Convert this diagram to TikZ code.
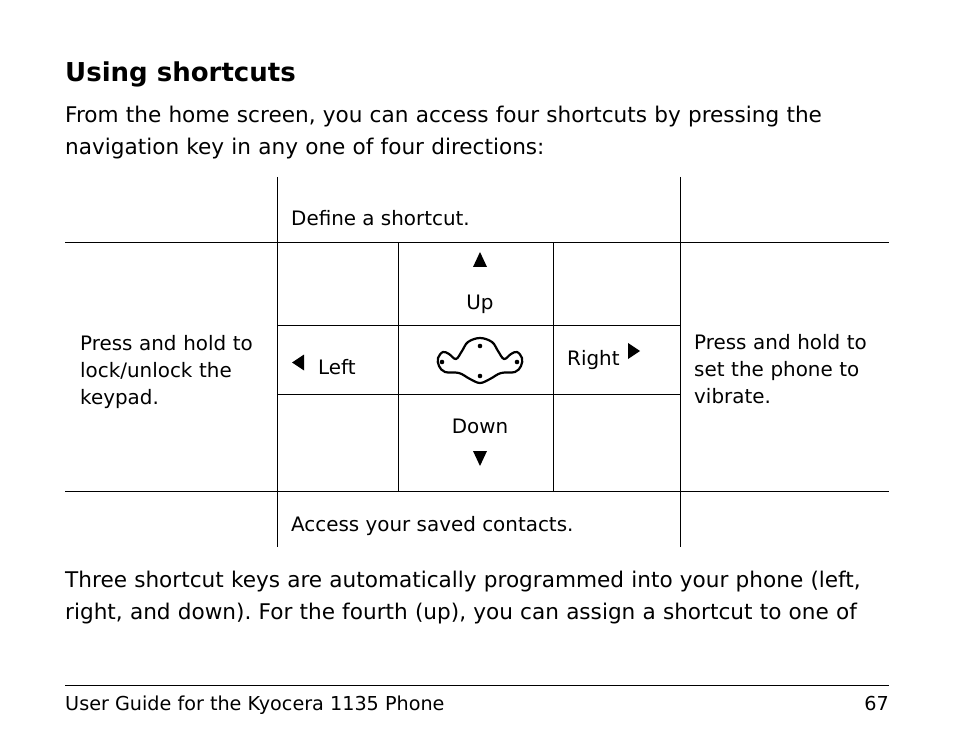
\documentclass[tikz,border=0pt]{standalone}
\usepackage{fontspec}
\setmainfont{DejaVu Sans}
\usetikzlibrary{positioning}
\frenchspacing

\tikzset{
  cell/.style={anchor=base west, inner sep=0pt, font=\fontsize{19.9}{27.3}\selectfont},
  cellpar/.style={cell, text width=200pt, align=left},
  body/.style={anchor=base west, inner sep=0pt, text width=870pt, align=left,
    font=\fontsize{21.6}{32}\selectfont},
  rule/.style={line width=1pt},
  tip/.style={fill=black},
}

\begin{document}
\begin{tikzpicture}[x=1pt,y=-1pt]
    \useasboundingbox (0,0) rectangle (954,738);
    % heading and text
    \node[anchor=base west, inner sep=0pt, font=\fontsize{26}{30}\selectfont\bfseries]
      (title) at (65,82) {Using shortcuts};
    \node[body] (intro) at (65,123)
      {From the home screen, you can access four shortcuts by pressing the\\
       navigation key in any one of four directions:};

    % table rules
    \draw[rule] (65,243) -- (889,243);
    \draw[rule] (65,491) -- (889,491);
    \draw[rule] (277,326) -- (680,326);
    \draw[rule] (277,394) -- (680,394);
    \draw[rule] (277,177) -- (277,547);
    \draw[rule] (680,177) -- (680,547);
    \draw[rule] (398,243) -- (398,491);
    \draw[rule] (553,243) -- (553,491);

    % cells
    \node[cell] (define) at (291,226) {Define a shortcut.};
    \node[cell] (access) at (291,531) {Access your saved contacts.};
    \node[cellpar] (lock) at (80,350)
      {Press and hold to\\ lock/unlock the\\ keypad.};
    \node[cellpar] (vibrate) at (694,349)
      {Press and hold to\\ set the phone to\\ vibrate.};
    \node[cell, anchor=base] (up) at (480,310) {Up};
    \node[cell, anchor=base] (down) at (480,433) {Down};
    \node[cell] (left) at (318,374) {Left};
    \node[cell] (right) at (567,366) {Right};

    % direction marks
    \fill[tip] (480,252) -- (487,267) -- (473,267) -- cycle;
    \fill[tip] (473,451) -- (487,451) -- (480,466) -- cycle;
    \fill[tip] (292,362.5) -- (304,354.5) -- (304,370.5) -- cycle;
    \fill[tip] (640,351) -- (628,343) -- (628,359) -- cycle;

    % navigation key
    \begin{scope}[shift={(480,362)}]
      \draw[line width=2.2pt] plot[smooth cycle, tension=0.6] coordinates {
        (0,-24) (12,-20) (18,-11) (24,-3) (31,-8) (37,-10) (42,-4) (41,4)
        (35,10) (21,11) (10,17) (0,21) (-10,17) (-21,11) (-35,10) (-41,4)
        (-42,-4) (-37,-10) (-31,-8) (-24,-3) (-18,-11) (-12,-20)};
      \fill (0,-16) circle (2.3pt);
      \fill (0,14) circle (2.3pt);
      \fill (-38,0) circle (2.3pt);
      \fill (37,0) circle (2.3pt);
    \end{scope}

    % text after table
    \node[body] (after) at (65,587)
      {Three shortcut keys are automatically programmed into your phone (left,\\
       right, and down). For the fourth (up), you can assign a shortcut to one of};

    % footer
    \draw[rule] (65,685) -- (889,685);
    \node[cell, font=\fontsize{19.2}{24}\selectfont] (footer) at (65,710)
      {User Guide for the Kyocera 1135 Phone};
    \node[cell, font=\fontsize{19.2}{24}\selectfont, anchor=base east] (page)
      at (889,710) {67};
\end{tikzpicture}
\end{document}
